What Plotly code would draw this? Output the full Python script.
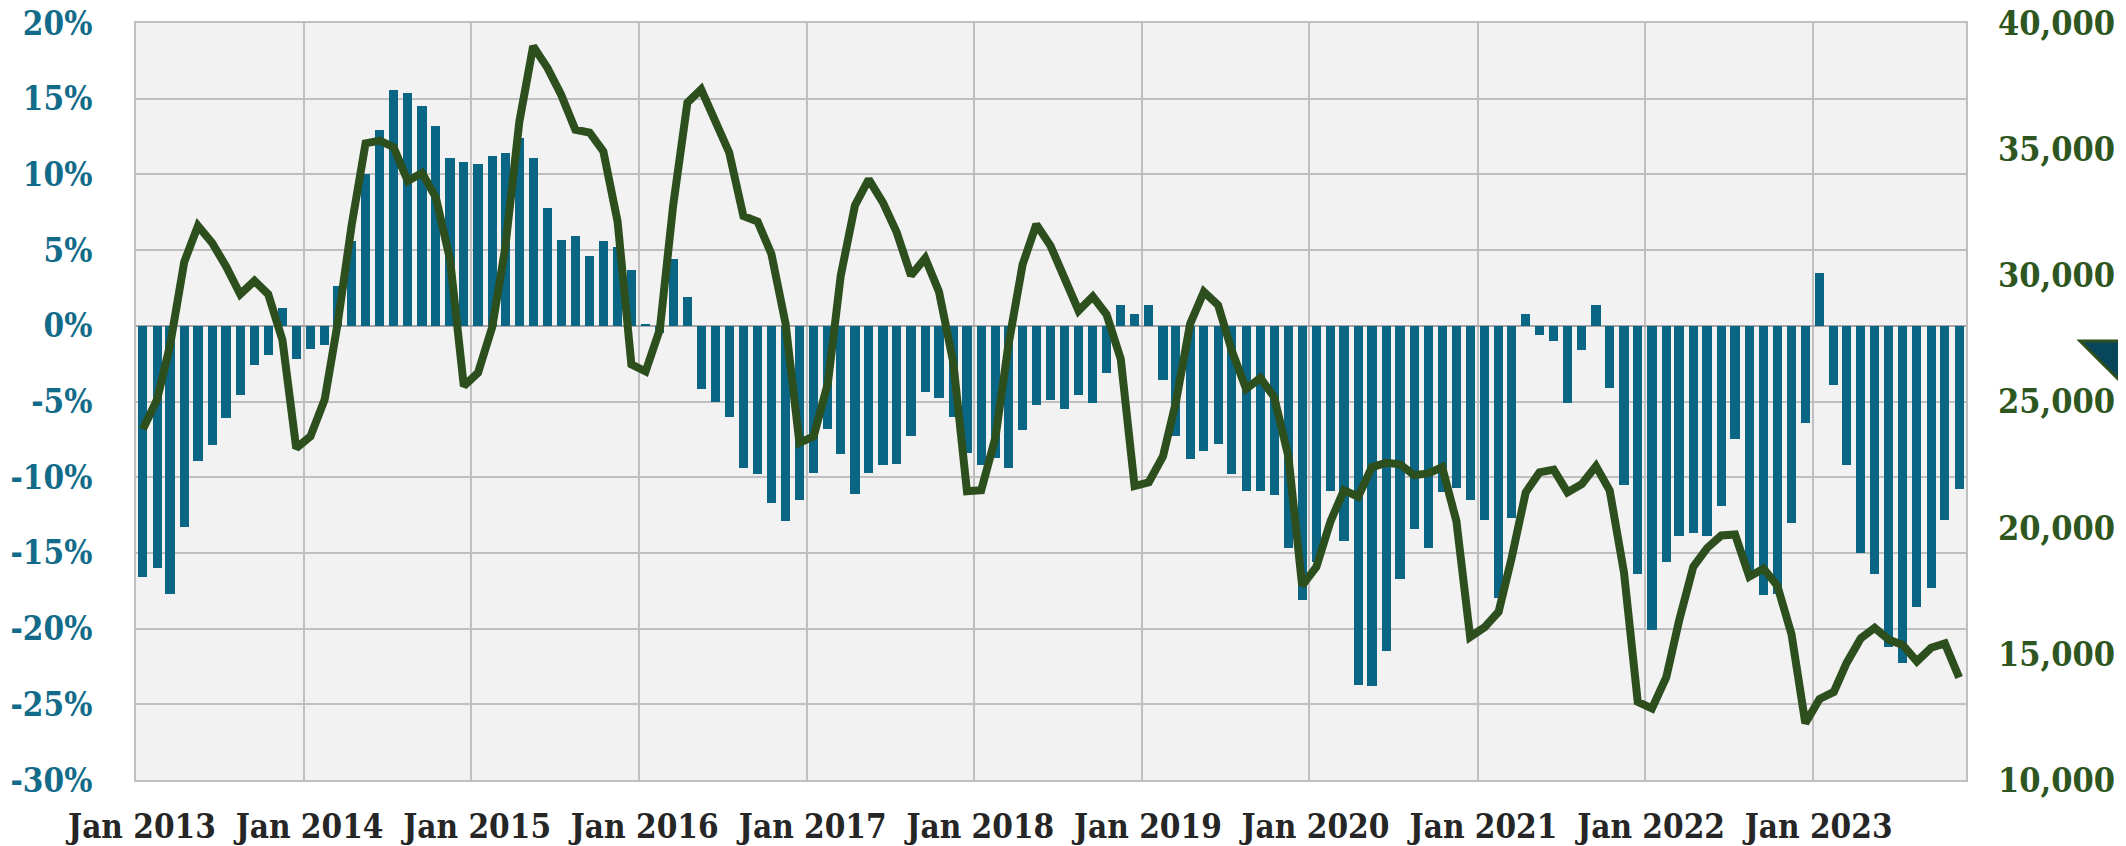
import plotly.graph_objects as go
import pandas as pd

# monthly series, Jan 2013 - Nov 2023
months = pd.date_range("2013-01-01", "2023-11-01", freq="MS")

# year-over-year change (%), left axis
change_pct = [
    -16.6, -16.0, -17.7, -13.3, -8.9, -7.9, -6.1, -4.6, -2.6, -1.9, 1.2, -2.2,      # 2013
    -1.5, -1.3, 2.6, 5.6, 10.0, 12.9, 15.6, 15.4, 14.5, 13.2, 11.1, 10.8,         # 2014
    10.7, 11.2, 11.4, 12.4, 11.1, 7.8, 5.7, 5.9, 4.6, 5.6, 5.2, 3.7,              # 2015
    0.1, -0.5, 4.4, 1.9, -4.2, -5.0, -6.0, -9.4, -9.8, -11.7, -12.9, -11.5,       # 2016
    -9.7, -6.8, -8.5, -11.1, -9.7, -9.2, -9.1, -7.3, -4.4, -4.8, -6.0, -8.4,      # 2017
    -9.2, -8.7, -9.4, -6.9, -5.2, -4.9, -5.5, -4.6, -5.1, -3.1, 1.35, 0.75,       # 2018
    1.35, -3.6, -7.3, -8.8, -8.3, -7.8, -9.8, -10.9, -10.9, -11.2, -14.7, -18.1,  # 2019
    -15.6, -10.9, -14.2, -23.7, -23.8, -21.5, -16.7, -13.4, -14.7, -11.0, -10.7, -11.5,  # 2020
    -12.8, -18.0, -12.7, 0.8, -0.6, -1.0, -5.1, -1.6, 1.35, -4.1, -10.5, -16.4,   # 2021
    -20.1, -15.6, -13.9, -13.7, -13.9, -11.9, -7.5, -16.3, -17.8, -17.7, -13.0, -6.4,  # 2022
    3.5, -3.9, -9.2, -15.0, -16.4, -21.2, -22.3, -18.6, -17.3, -12.8, -10.8,      # 2023
]

# monthly volume, right axis
volume = [
    23900, 25080, 27210, 30530, 31960, 31280, 30360, 29250, 29780, 29250, 27430, 23150,
    23620, 25080, 28070, 32020, 35230, 35340, 35080, 33740, 34060, 33090, 30630, 25610,
    26140, 27960, 31060, 36090, 39080, 38230, 37160, 35770, 35660, 34910, 32130, 26470,
    26190, 27860, 32770, 36840, 37370, 36190, 34870, 32350, 32130, 30850, 28070, 23360,
    23620, 25720, 29990, 32770, 33800, 32880, 31700, 29990, 30680, 29350, 26570, 21440,
    21480, 23580, 27210, 30420, 32020, 31170, 29990, 28600, 29160, 28450, 26680, 21650,
    21800, 22830, 24970, 28070, 29350, 28820, 27000, 25500, 25930, 25180, 22830, 17700,
    18450, 20260, 21480, 21230, 22400, 22570, 22510, 22080, 22150, 22400, 20260, 15670,
    16050, 16670, 18770, 21400, 22190, 22300, 21400, 21720, 22440, 21470, 18230, 13100,
    12840, 14060, 16310, 18450, 19190, 19690, 19730, 18060, 18380, 17700, 15770, 12250,
    13210, 13490, 14640, 15620, 16030, 15560, 15350, 14700, 15240, 15410, 14060,
]

year_ticks = pd.date_range("2013-01-01", "2023-01-01", freq="YS")
year_labels = [d.strftime("Jan %Y") for d in year_ticks]

pct_ticks = list(range(-30, 25, 5))
pct_labels = [f"{v}%" for v in pct_ticks]

# marks sit mid-month, gridlines on the 1st
mid_month = months + pd.Timedelta(days=15)

BAR_BLUE = "#0B6685"
LINE_GREEN = "#2D4F1E"
GRID = "#BFBFBF"
FONT = "DejaVu Serif Condensed"

# page body adds an 8px offset, so the figure is 8px smaller than the window
W, H = 2118, 838
L, R, T, B = 128, 160, 15, 66
OFF = 8


def to_paper(px, py):
    # page pixel -> paper coordinates
    px, py = px - OFF, py - OFF
    return (px - L) / (W - L - R), (H - B - py) / (H - T - B)


fig = go.Figure()

fig.add_trace(go.Bar(
    x=mid_month,
    y=change_pct,
    width=20 * 24 * 3600 * 1000,
    marker=dict(color=BAR_BLUE, line=dict(width=0)),
    name="Change",
))

fig.add_trace(go.Scatter(
    x=mid_month,
    y=volume,
    yaxis="y2",
    mode="lines",
    line=dict(color=LINE_GREEN, width=8),
    name="Volume",
))

# the partly cut-off marker on the right edge
x1, y1 = to_paper(2080, 341)
x2, y2 = to_paper(2150, 341)
x3, y3 = to_paper(2150, 411)
fig.add_shape(
    type="path",
    xref="paper", yref="paper",
    path=f"M {x1} {y1} L {x2} {y2} L {x3} {y3} Z",
    fillcolor="#08465A",
    line=dict(color=LINE_GREEN, width=3),
)

fig.update_layout(
    width=W,
    height=H,
    margin=dict(l=L, r=R, t=T, b=B, autoexpand=False),
    paper_bgcolor="white",
    plot_bgcolor="#F2F2F2",
    showlegend=False,
    bargap=0,
    xaxis=dict(
        type="date",
        range=["2013-01-01", "2023-12-01"],
        tickvals=year_ticks,
        ticktext=year_labels,
        ticklabelshift=6,
        ticklabelstandoff=16,
        ticklabeloverflow="allow",
        tickfont=dict(family=FONT, size=33, color="#262626", weight="bold"),
        showgrid=True,
        gridcolor=GRID,
        gridwidth=1.5,
        showline=True,
        linecolor=GRID,
        linewidth=2,
        mirror=True,
        ticks="",
        automargin=False,
    ),
    yaxis=dict(
        range=[-30, 20],
        tickvals=pct_ticks,
        ticktext=pct_labels,
        tickfont=dict(family=FONT, size=33, color="#136B8A", weight="bold"),
        ticklabelstandoff=35,
        ticklabeloverflow="allow",
        showgrid=True,
        gridcolor=GRID,
        gridwidth=1.5,
        zeroline=True,
        zerolinecolor="#A6A6A6",
        zerolinewidth=2,
        showline=True,
        linecolor=GRID,
        linewidth=2,
        mirror=True,
        ticks="",
        automargin=False,
    ),
    yaxis2=dict(
        overlaying="y",
        side="right",
        range=[10000, 40000],
        dtick=5000,
        tickformat=",",
        tickfont=dict(family=FONT, size=34, color="#2E5620", weight="bold"),
        ticklabelstandoff=31,
        ticklabeloverflow="allow",
        showgrid=False,
        zeroline=False,
        ticks="",
        automargin=False,
    ),
)

fig.write_html("out.html")
